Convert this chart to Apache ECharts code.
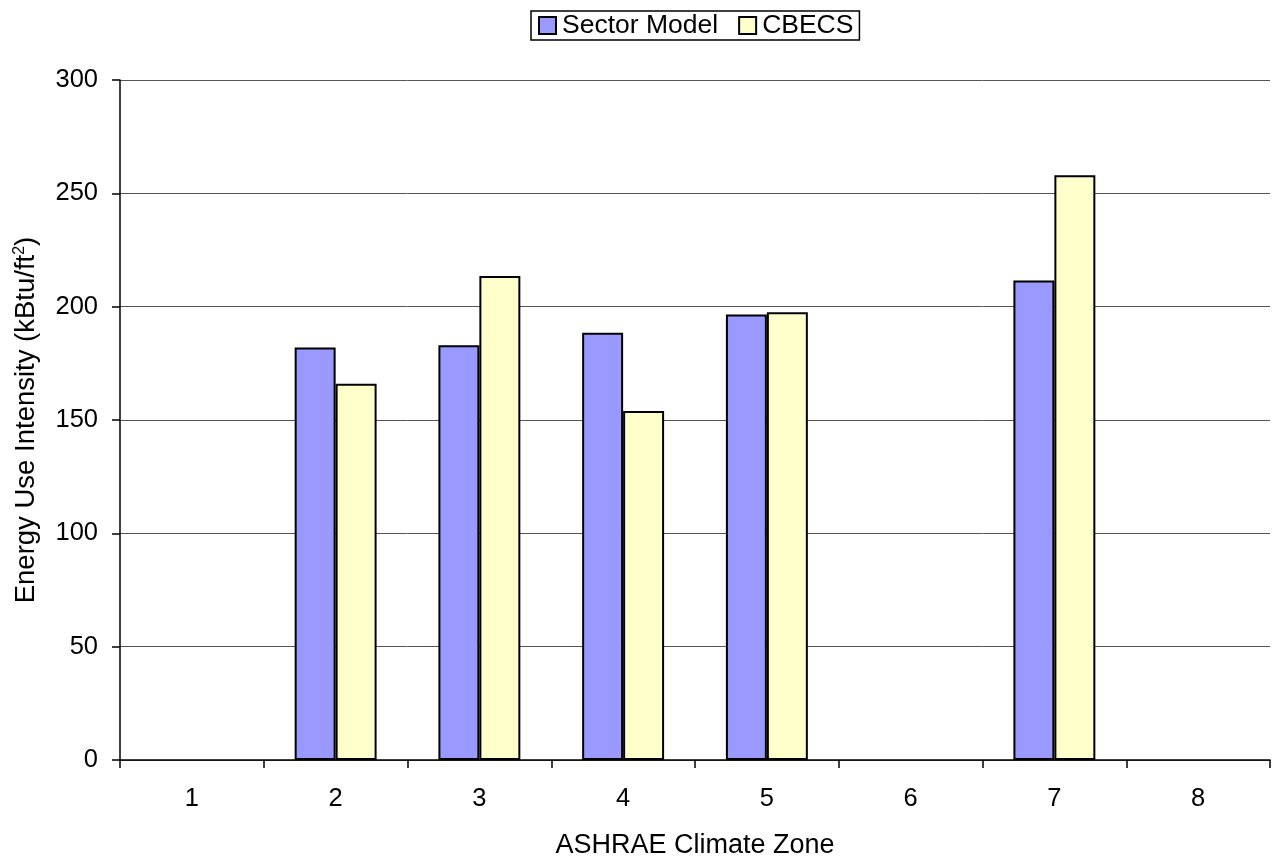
<!DOCTYPE html>
<html>
<head>
<meta charset="utf-8">
<script src="https://cdn.jsdelivr.net/npm/echarts@6/dist/echarts.min.js"></script>
<style>html,body{margin:0;padding:0;background:#fff;}#c{width:1273px;height:858px;}</style>
</head>
<body>
<div id="c"></div>
<script>
var categories = ['1','2','3','4','5','6','7','8'];
var sectorModel = [null, 182, 183, 188.5, 196.5, null, 211.5, null];
var cbecs = [null, 166, 213.5, 154, 197.5, null, 258, null];
var yTicks = [0, 50, 100, 150, 200, 250, 300];

var chart = echarts.init(document.getElementById('c'));
var font = 'Liberation Sans, Arial, sans-serif';
chart.setOption({
  animation: false,
  textStyle: {fontFamily: font},
  legend: {
    top: 11, left: 531,
    icon: 'rect',
    itemWidth: 17, itemHeight: 17, itemGap: 20,
    borderColor: '#000', borderWidth: 1.5, padding: [1, 6, 1, 7],
    textStyle: {fontSize: 26.5, color: '#000', fontFamily: font, padding: [0, 0, 0, 1]},
    data: ['Sector Model', 'CBECS']
  },
  grid: {left: 120, right: 3, top: 80, bottom: 98, containLabel: false, outerBoundsMode: 'none'},
  xAxis: {
    type: 'category', data: categories,
    name: 'ASHRAE Climate Zone', nameLocation: 'middle', nameGap: 72,
    nameTextStyle: {fontSize: 27, color: '#000', fontFamily: font},
    axisLine: {lineStyle: {color: '#000', width: 1.5}},
    axisTick: {show: true, length: 8, lineStyle: {color: '#000', width: 1.5}},
    axisLabel: {fontSize: 25.5, color: '#000', margin: 26, fontFamily: font}
  },
  yAxis: {
    type: 'value', min: yTicks[0], max: yTicks[yTicks.length-1], interval: 50,
    name: '{a|Energy Use Intensity (kBtu/ft}{s|2}{a|)}', nameLocation: 'middle', nameGap: 80,
    nameTextStyle: {fontSize: 27, color: '#000', fontFamily: font,
      rich: {a: {fontSize: 27.5, color: '#000', fontFamily: font},
             s: {fontSize: 16, color: '#000', fontFamily: font, verticalAlign: 'top'}}},
    axisLine: {show: true, lineStyle: {color: '#000', width: 1.5}},
    axisTick: {show: true, length: 8, lineStyle: {color: '#000', width: 1.5}},
    axisLabel: {fontSize: 25.5, color: '#000', margin: 22, fontFamily: font},
    splitLine: {show: true, lineStyle: {color: '#555', width: 1}}
  },
  series: [
    {name: 'Sector Model', type: 'bar', data: sectorModel, barGap: '0%', barCategoryGap: '43%',
     itemStyle: {color: '#9999FF', borderColor: '#000', borderWidth: 2}},
    {name: 'CBECS', type: 'bar', data: cbecs, barGap: '0%', barCategoryGap: '43%',
     itemStyle: {color: '#FFFFCC', borderColor: '#000', borderWidth: 2}}
  ]
});
</script>
</body>
</html>
